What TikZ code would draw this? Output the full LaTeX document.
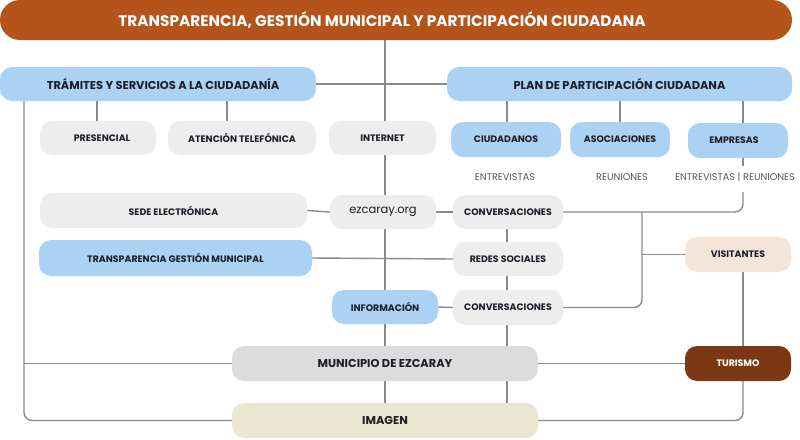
\documentclass[tikz,border=0pt]{standalone}
\usepackage{fontspec}
\setmainfont{Poppins}
\usetikzlibrary{backgrounds,calc}
\definecolor{rust}{HTML}{B4541B}
\definecolor{sky}{HTML}{ABD2F2}
\definecolor{pale}{HTML}{EDEDED}
\definecolor{muni}{HTML}{DCDCDC}
\definecolor{cream}{HTML}{E9E7CF}
\definecolor{peach}{HTML}{F3E5DA}
\definecolor{brown}{HTML}{7B3913}
\definecolor{ink}{HTML}{1E1E28}
\definecolor{wire}{HTML}{8A8A8A}
\definecolor{notec}{HTML}{555555}
\begin{document}
\begin{tikzpicture}[x=1pt,y=-1pt,
  bx/.style={rounded corners=12pt, minimum height=35pt, inner sep=0pt, text=ink, font=\bfseries\fontsize{9.4}{11}\selectfont},
  blu/.style={bx, fill=sky},
  gry/.style={bx, fill=pale},
  big/.style={font=\bfseries\fontsize{11.4}{13}\selectfont},
  ln/.style={draw=wire, line width=1.4pt},
  note/.style={text=notec, font=\fontsize{9.7}{11}\selectfont, inner sep=1pt}
]
\useasboundingbox (0,0) rectangle (800,439);
% nodes
\node[bx, fill=rust, text=white, rounded corners=20pt, minimum width=792, minimum height=40, font=\bfseries\fontsize{15.3}{17}\selectfont] (title) at (396,20) {TRANSPARENCIA, GESTIÓN MUNICIPAL Y PARTICIPACIÓN CIUDADANA\hspace*{28pt}};
\node[blu, big, minimum width=316, minimum height=34] (tram) at (158,84) {\hspace*{10pt}TRÁMITES Y SERVICIOS A LA CIUDADANÍA};
\node[blu, big, minimum width=345, minimum height=34] (plan) at (619.5,84) {PLAN DE PARTICIPACIÓN CIUDADANA};
\node[gry, minimum width=116, minimum height=34] (pres) at (98,138) {\hspace*{8pt}PRESENCIAL};
\node[gry, minimum width=148, minimum height=34] (aten) at (242,138) {ATENCIÓN TELEFÓNICA};
\node[gry, minimum width=107, minimum height=34] (inter) at (382.5,138) {INTERNET};
\node[blu, minimum width=110] (ciud) at (506,139.5) {CIUDADANOS};
\node[blu, minimum width=100] (asoc) at (620,139.5) {ASOCIACIONES};
\node[blu, minimum width=100] (empr) at (738,140.5) {EMPRESAS\hspace*{8pt}};
\node[note] (n1) at (505,177) {ENTREVISTAS};
\node[note] (n2) at (622,177) {REUNIONES};
\node[note] (n3) at (735,177) {ENTREVISTAS | REUNIONES};
\node[gry, minimum width=267] (sede) at (173.5,210.5) {SEDE ELECTRÓNICA};
\node[gry, minimum width=106, minimum height=34, font=\fontsize{11.5}{13}\selectfont] (ezc) at (383,212) {ezcaray.org};
\node[gry, minimum width=110, minimum height=34] (conv1) at (508,212) {CONVERSACIONES};
\node[blu, minimum width=273, minimum height=36] (tgm) at (175.5,258) {TRANSPARENCIA GESTIÓN MUNICIPAL};
\node[gry, minimum width=110, minimum height=34] (redes) at (508,259) {REDES SOCIALES};
\node[blu, minimum width=106, minimum height=34] (info) at (385,307) {INFORMACIÓN};
\node[gry, minimum width=110] (conv2) at (508,307.5) {CONVERSACIONES};
\node[bx, big, fill=muni, minimum width=306] (muni) at (385,363.5) {MUNICIPIO DE EZCARAY};
\node[bx, big, fill=cream, minimum width=306] (imag) at (385,420.5) {IMAGEN};
\node[bx, fill=peach, minimum width=106] (visit) at (738,254.5) {VISITANTES};
\node[bx, fill=brown, text=white, minimum width=106] (turis) at (738,363.5) {TURISMO};
% helper coordinates
\coordinate (cL) at (24,0);
\coordinate (cP) at (97,0);
\coordinate (cA) at (227,0);
\coordinate (cM) at (385,0);
\coordinate (cC) at (507,0);
\coordinate (cR) at (743,0);
\coordinate (cV) at (642,0);
\coordinate (e1) at (743,166);
\coordinate (e2) at (743,192);
% connectors
\begin{pgfonlayer}{background}
\draw[ln] (title.south -| cM) -- (imag.north -| cM);
\draw[ln] (tram.east) -- (plan.west);
\draw[ln] (tram.south -| cP) -- (pres.north -| cP);
\draw[ln] (tram.south -| cA) -- (aten.north -| cA);
\draw[ln, rounded corners=8pt] (tram.south -| cL) |- (imag.west);
\draw[ln] (cL |- muni.west) -- (muni.west);
\draw[ln] (plan.south -| cC) -- (ciud.north -| cC);
\draw[ln] (plan.south -| asoc.north) -- (asoc.north);
\draw[ln] (plan.south -| cR) -- (empr.north -| cR);
\draw[ln] (empr.south -| cR) -- (e1);
\draw[ln, rounded corners=8pt] (e2) |- (conv1.east);
\draw[ln, rounded corners=8pt] (conv1.east -| cV) |- (conv2.east);
\draw[ln] (visit.west -| cV) -- (visit.west);
\draw[ln] (sede.east) -- (ezc.west);
\draw[ln] (ezc.east) -- (conv1.west);
\draw[ln] (tgm.east) -- (redes.west);
\draw[ln] (info.east) -- (conv2.west);
\draw[ln] (conv1.south -| cC) -- (imag.north -| cC);
\draw[ln] (muni.east) -- (turis.west);
\draw[ln] (visit.south -| cR) -- (turis.north -| cR);
\draw[ln, rounded corners=8pt] (turis.south -| cR) |- (imag.east);
\end{pgfonlayer}
\end{tikzpicture}
\end{document}
